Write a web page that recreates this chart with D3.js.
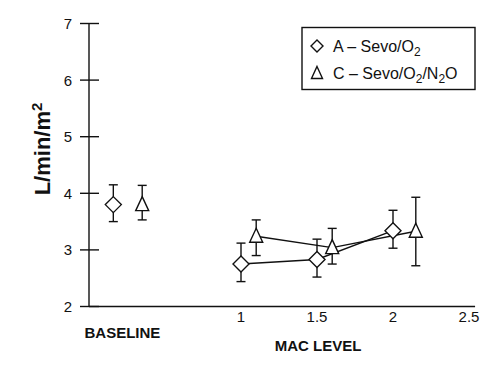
<!DOCTYPE html>
<html>
<head>
<meta charset="utf-8">
<script src="https://cdn.jsdelivr.net/npm/d3@7"></script>
<style>
  body { margin: 0; background: #fff; }
  svg { font-family: "Liberation Sans", Arial, sans-serif; }
</style>
</head>
<body>
<svg width="500" height="367"></svg>
<script>
// y ticks
var yTicks = [2, 3, 4, 5, 6, 7];
var xTicks = [1, 1.5, 2, 2.5];

// baseline (shown left of the MAC levels)
var baselinePos = [0.16, 0.35];        // A, C
var baselineMean = [3.80, 3.80];
var baselineLow = [3.50, 3.53];
var baselineHigh = [4.15, 4.14];

// group A - Sevo/O2
var aMac = [1, 1.5, 2];
var aMean = [2.75, 2.83, 3.34];
var aLow = [2.44, 2.52, 3.03];
var aHigh = [3.12, 3.19, 3.70];

// group C - Sevo/O2/N2O
var cMac = [1.1, 1.6, 2.15];
var cMean = [3.24, 3.04, 3.33];
var cLow = [2.90, 2.75, 2.72];
var cHigh = [3.53, 3.38, 3.93];

var svg = d3.select("svg");

var x = d3.scaleLinear().domain([0, 2.5]).range([89, 469]);
var y = d3.scaleLinear().domain([2, 7]).range([306.5, 23.5]);

// shapes
var diamond = "M0,-8L8,0L0,8L-8,0Z";
var triangle = "M0,-8L6.5,6L-6.5,6Z";

// y axis line + crossing ticks
svg.append("line")
  .attr("x1", x(0)).attr("x2", x(0))
  .attr("y1", y(7)).attr("y2", y(2))
  .attr("stroke", "#111").attr("stroke-width", 1.4);

svg.selectAll(".ytick")
  .data(yTicks)
  .enter().append("line")
  .attr("class", "ytick")
  .attr("x1", x(0) - 9).attr("x2", x(0) + 10)
  .attr("y1", function(d) { return y(d); })
  .attr("y2", function(d) { return y(d); })
  .attr("stroke", "#111").attr("stroke-width", 1.4);

svg.selectAll(".ylab")
  .data(yTicks)
  .enter().append("text")
  .attr("class", "ylab")
  .attr("x", 72)
  .attr("y", function(d) { return y(d); })
  .attr("dy", "0.36em")
  .attr("text-anchor", "end")
  .attr("font-size", 15)
  .attr("fill", "#111")
  .text(function(d) { return d; });

// x axis line, no tick marks
svg.append("line")
  .attr("x1", x(0)).attr("x2", x(2.54))
  .attr("y1", y(2)).attr("y2", y(2))
  .attr("stroke", "#111").attr("stroke-width", 1.4);

svg.selectAll(".xlab")
  .data(xTicks)
  .enter().append("text")
  .attr("class", "xlab")
  .attr("x", function(d) { return x(d); })
  .attr("y", 322)
  .attr("text-anchor", "middle")
  .attr("font-size", 15)
  .attr("fill", "#111")
  .text(function(d) { return d; });

svg.append("text")
  .attr("x", x(0.22)).attr("y", 338)
  .attr("text-anchor", "middle")
  .attr("font-size", 15).attr("font-weight", "bold")
  .attr("fill", "#111")
  .text("BASELINE");

svg.append("text")
  .attr("x", 318).attr("y", 351)
  .attr("text-anchor", "middle")
  .attr("font-size", 15).attr("font-weight", "bold")
  .attr("fill", "#111")
  .text("MAC LEVEL");

// y axis title
var yt = svg.append("text")
  .attr("transform", "translate(50,149) rotate(-90)")
  .attr("text-anchor", "middle")
  .attr("font-size", 22).attr("font-weight", "bold")
  .attr("fill", "#111");
yt.append("tspan").text("L/min/m");
yt.append("tspan").attr("dy", -8).attr("font-size", 15).text("2");

// connecting lines
var line = d3.line()
  .x(function(d) { return x(d[0]); })
  .y(function(d) { return y(d[1]); });

svg.append("path")
  .attr("d", line(d3.zip(aMac, aMean)))
  .attr("fill", "none").attr("stroke", "#111").attr("stroke-width", 1.4);
svg.append("path")
  .attr("d", line(d3.zip(cMac, cMean)))
  .attr("fill", "none").attr("stroke", "#111").attr("stroke-width", 1.4);

function drawPoints(xs, means, lows, highs, shape) {
  var pts = d3.zip(xs, means, lows, highs);
  var g = svg.append("g");
  var eb = g.selectAll(".eb").data(pts).enter().append("g");
  eb.append("line")
    .attr("x1", function(d) { return x(d[0]); })
    .attr("x2", function(d) { return x(d[0]); })
    .attr("y1", function(d) { return y(d[2]); })
    .attr("y2", function(d) { return y(d[3]); });
  eb.append("line")
    .attr("x1", function(d) { return x(d[0]) - 4.5; })
    .attr("x2", function(d) { return x(d[0]) + 4.5; })
    .attr("y1", function(d) { return y(d[2]); })
    .attr("y2", function(d) { return y(d[2]); });
  eb.append("line")
    .attr("x1", function(d) { return x(d[0]) - 4.5; })
    .attr("x2", function(d) { return x(d[0]) + 4.5; })
    .attr("y1", function(d) { return y(d[3]); })
    .attr("y2", function(d) { return y(d[3]); });
  eb.selectAll("line").attr("stroke", "#111").attr("stroke-width", 1.4);
  g.selectAll(".mk").data(pts).enter().append("path")
    .attr("d", shape)
    .attr("transform", function(d) { return "translate(" + x(d[0]) + "," + y(d[1]) + ")"; })
    .attr("fill", "#fff").attr("stroke", "#111").attr("stroke-width", 1.4);
}

drawPoints([baselinePos[0]], [baselineMean[0]], [baselineLow[0]], [baselineHigh[0]], diamond);
drawPoints([baselinePos[1]], [baselineMean[1]], [baselineLow[1]], [baselineHigh[1]], triangle);
drawPoints(aMac, aMean, aLow, aHigh, diamond);
drawPoints(cMac, cMean, cLow, cHigh, triangle);

// legend
svg.append("rect")
  .attr("x", 302).attr("y", 27.5)
  .attr("width", 173).attr("height", 62)
  .attr("fill", "#fff").attr("stroke", "#111").attr("stroke-width", 1.4);

svg.append("path").attr("d", "M0,-6L6,0L0,6L-6,0Z")
  .attr("transform", "translate(317,46)")
  .attr("fill", "none").attr("stroke", "#111").attr("stroke-width", 1.4);
svg.append("path").attr("d", "M0,-6.5L5.5,5.5L-5.5,5.5Z")
  .attr("transform", "translate(317,73)")
  .attr("fill", "none").attr("stroke", "#111").attr("stroke-width", 1.4);

var l1 = svg.append("text").attr("x", 333).attr("y", 52)
  .attr("font-size", 16).attr("fill", "#111");
l1.append("tspan").text("A – Sevo/O");
l1.append("tspan").attr("dy", 4).attr("font-size", 12).text("2");

var l2 = svg.append("text").attr("x", 333).attr("y", 79)
  .attr("font-size", 16).attr("fill", "#111");
l2.append("tspan").text("C – Sevo/O");
l2.append("tspan").attr("dy", 4).attr("font-size", 12).text("2");
l2.append("tspan").attr("dy", -4).text("/N");
l2.append("tspan").attr("dy", 4).attr("font-size", 12).text("2");
l2.append("tspan").attr("dy", -4).text("O");
</script>
</body>
</html>
